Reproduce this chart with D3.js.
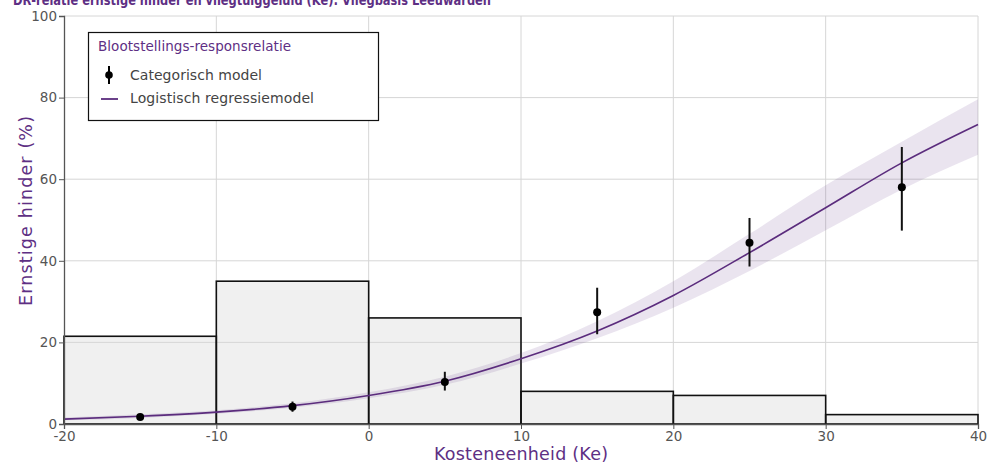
<!DOCTYPE html>
<html>
<head>
<meta charset="utf-8">
<script src="https://cdn.jsdelivr.net/npm/d3@7"></script>
<style>
  html, body { margin: 0; padding: 0; background: #fff; }
  svg { display: block; font-family: "DejaVu Sans", Verdana, sans-serif; }
</style>
</head>
<body>
<div id="chart"></div>
<script>
// ---- Data ----
const title = "DR-relatie ernstige hinder en vliegtuiggeluid (Ke): Vliegbasis Leeuwarden";
const xTitle = "Kosteneenheid (Ke)";
const yTitle = "Ernstige hinder (%)";
const legendTitle = "Blootstellings-responsrelatie";
const legendLabels = ["Categorisch model", "Logistisch regressiemodel"];

// Histogram (distribution of exposure), bins of Ke
const binStart = [-20, -10, 0, 10, 20, 30];
const binEnd   = [-10, 0, 10, 20, 30, 40];
const binValue = [21.5, 35, 26, 8, 7, 2.3];

// Categorical model: points with confidence interval
const catX   = [-15, -5, 5, 15, 25, 35];
const catY   = [1.7, 4.2, 10.3, 27.4, 44.4, 58.0];
const catLow = [1.0, 3.0, 8.2, 22.0, 38.6, 47.4];
const catHigh= [2.5, 5.5, 12.8, 33.4, 50.5, 67.9];

// Logistic regression model
const curveX    = [-20, -15, -10, -5, 0, 5, 10, 15, 20, 25, 30, 35, 40];
const curveMid  = [1.2, 1.9, 2.9, 4.5, 7.0, 10.5, 16.0, 22.8, 31.5, 42.0, 53.0, 64.0, 73.4];
const curveLow  = [0.9, 1.5, 2.5, 4.0, 6.3, 9.6, 14.8, 21.0, 28.5, 37.5, 47.5, 57.5, 66.0];
const curveHigh = [1.6, 2.4, 3.4, 5.1, 7.8, 11.6, 17.4, 25.2, 35.0, 46.6, 58.5, 69.2, 79.6];

const xTicks = [-20, -10, 0, 10, 20, 30, 40];
const xTickLabels = ["-20", "-10", "0", "10", "20", "30", "40"];
const yTicks = [0, 20, 40, 60, 80, 100];
const yTickLabels = ["0", "20", "40", "60", "80", "100"];

// ---- Layout ----
const W = 987, H = 465;
const m = { left: 64, right: 9, top: 16, bottom: 41 };
const purple = "#5e2f84";
const lineColor = "#5b2c7d";

const svg = d3.select("#chart").append("svg").attr("width", W).attr("height", H);

const x = d3.scaleLinear().domain([-20, 40]).range([m.left, W - m.right]);
const y = d3.scaleLinear().domain([0, 100]).range([H - m.bottom, m.top]);

// Title (clipped at top as in reference)
svg.append("text")
  .attr("x", 13).attr("y", 5)
  .attr("font-size", 13.5).attr("font-weight", "bold")
  .attr("fill", purple)
  .attr("textLength", 478).attr("lengthAdjust", "spacingAndGlyphs")
  .text(title);

// Histogram bars
const bins = binStart.map((s, i) => ({ s, e: binEnd[i], v: binValue[i] }));
svg.append("g").selectAll("rect").data(bins).join("rect")
  .attr("x", d => x(d.s))
  .attr("y", d => y(d.v))
  .attr("width", d => x(d.e) - x(d.s))
  .attr("height", d => y(0) - y(d.v))
  .attr("fill", "#f0f0f0");

// Gridlines (drawn over fill)
const grid = svg.append("g");
grid.selectAll("line.gx").data(xTicks.slice(1)).join("line")
  .attr("x1", d => x(d)).attr("x2", d => x(d))
  .attr("y1", y(0)).attr("y2", y(100))
  .attr("stroke", "#d6d6d6").attr("stroke-width", 1);
grid.selectAll("line.gy").data(yTicks.slice(1)).join("line")
  .attr("x1", x(-20)).attr("x2", x(40))
  .attr("y1", d => y(d)).attr("y2", d => y(d))
  .attr("stroke", "#d6d6d6").attr("stroke-width", 1);

// Bar outlines
svg.append("g").selectAll("rect").data(bins).join("rect")
  .attr("x", d => x(d.s))
  .attr("y", d => y(d.v))
  .attr("width", d => x(d.e) - x(d.s))
  .attr("height", d => y(0) - y(d.v))
  .attr("fill", "none")
  .attr("stroke", "#111").attr("stroke-width", 1.6);

// Confidence band
const curve = curveX.map((cx, i) => ({ x: cx, m: curveMid[i], lo: curveLow[i], hi: curveHigh[i] }));
svg.append("path")
  .datum(curve)
  .attr("d", d3.area().x(d => x(d.x)).y0(d => y(d.lo)).y1(d => y(d.hi)).curve(d3.curveMonotoneX))
  .attr("fill", "#5e2f84").attr("fill-opacity", 0.13);

// Logistic line
svg.append("path")
  .datum(curve)
  .attr("d", d3.line().x(d => x(d.x)).y(d => y(d.m)).curve(d3.curveMonotoneX))
  .attr("fill", "none").attr("stroke", lineColor).attr("stroke-width", 1.6);

// Categorical points with error bars
const cat = catX.map((cx, i) => ({ x: cx, y: catY[i], lo: catLow[i], hi: catHigh[i] }));
const cg = svg.append("g");
cg.selectAll("line").data(cat).join("line")
  .attr("x1", d => x(d.x)).attr("x2", d => x(d.x))
  .attr("y1", d => y(d.lo)).attr("y2", d => y(d.hi))
  .attr("stroke", "#111").attr("stroke-width", 2);
cg.selectAll("circle").data(cat).join("circle")
  .attr("cx", d => x(d.x)).attr("cy", d => y(d.y)).attr("r", 4)
  .attr("fill", "#000");

// Axes
const xAxis = svg.append("g").attr("transform", `translate(0,${y(0)})`)
  .call(d3.axisBottom(x).tickValues(xTicks).tickFormat((d, i) => xTickLabels[i]).tickSize(5).tickPadding(2));
const yAxis = svg.append("g").attr("transform", `translate(${x(-20)},0)`)
  .call(d3.axisLeft(y).tickValues(yTicks).tickFormat((d, i) => yTickLabels[i]).tickSize(5).tickPadding(2));
[xAxis, yAxis].forEach(a => {
  a.select(".domain").attr("stroke", "#555").attr("stroke-width", 1.3);
  a.selectAll(".tick line").attr("stroke", "#555");
  a.selectAll(".tick text").attr("fill", "#555").attr("font-size", 13.5)
    .attr("font-family", "\"DejaVu Sans\", Verdana, sans-serif");
});
xAxis.selectAll(".tick text").attr("dy", "0.72em");

// Axis titles
svg.append("text")
  .attr("x", 521).attr("y", 460)
  .attr("text-anchor", "middle").attr("font-size", 17.5).attr("fill", purple)
  .attr("textLength", 174).attr("lengthAdjust", "spacing")
  .text(xTitle);
svg.append("text")
  .attr("transform", `translate(32,211) rotate(-90)`)
  .attr("text-anchor", "middle").attr("font-size", 17.5).attr("fill", purple)
  .attr("textLength", 190).attr("lengthAdjust", "spacing")
  .text(yTitle);

// Legend
const lg = svg.append("g").attr("transform", "translate(88,32)");
lg.append("rect").attr("x", 0.5).attr("y", 0.5).attr("width", 290).attr("height", 88)
  .attr("fill", "#fff").attr("stroke", "#111").attr("stroke-width", 1.2);
lg.append("text").attr("x", 10).attr("y", 18.5).attr("font-size", 13.5).attr("fill", purple)
  .attr("textLength", 193).attr("lengthAdjust", "spacing")
  .text(legendTitle);
lg.append("line").attr("x1", 21).attr("x2", 21).attr("y1", 34).attr("y2", 52)
  .attr("stroke", "#000").attr("stroke-width", 2);
lg.append("circle").attr("cx", 21).attr("cy", 43).attr("r", 3.8).attr("fill", "#000");
lg.append("text").attr("x", 42).attr("y", 47.5).attr("font-size", 14).attr("fill", "#444")
  .attr("textLength", 132).attr("lengthAdjust", "spacing")
  .text(legendLabels[0]);
lg.append("line").attr("x1", 13).attr("x2", 30).attr("y1", 67).attr("y2", 67)
  .attr("stroke", lineColor).attr("stroke-width", 1.8);
lg.append("text").attr("x", 42).attr("y", 71).attr("font-size", 14).attr("fill", "#444")
  .attr("textLength", 184).attr("lengthAdjust", "spacing")
  .text(legendLabels[1]);
</script>
</body>
</html>
